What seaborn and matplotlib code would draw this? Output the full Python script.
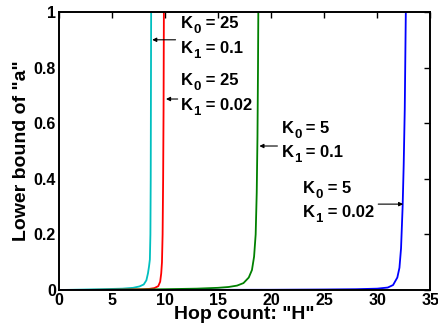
import matplotlib
matplotlib.use("Agg")
import matplotlib.pyplot as plt
import seaborn as sns
import pandas as pd

# Lower bound of "a" versus hop count for four (K0, K1) settings
h_k25_01 = [0, 2, 4, 6, 7, 7.6, 8.0, 8.25, 8.4, 8.5, 8.58, 8.63, 8.66, 8.68, 8.7]
a_k25_01 = [0, 0.0015, 0.003, 0.005, 0.008, 0.013, 0.02, 0.035, 0.06, 0.085,
            0.11, 0.2, 0.4, 0.7, 1.0]

h_k25_002 = [0, 3, 6, 8, 8.5, 9.0, 9.37, 9.55, 9.65, 9.72, 9.78, 9.83, 9.87, 9.9]
a_k25_002 = [0, 0.0005, 0.0015, 0.003, 0.004, 0.007, 0.014, 0.03, 0.06, 0.1,
             0.2, 0.4, 0.65, 1.0]

h_k5_01 = [0, 5, 10, 13, 15, 16, 16.8, 17.4, 17.9, 18.2, 18.4, 18.55, 18.65,
           18.72, 18.77, 18.8]
a_k5_01 = [0, 0.001, 0.003, 0.005, 0.008, 0.011, 0.016, 0.025, 0.045, 0.072,
           0.12, 0.2, 0.35, 0.55, 0.8, 1.0]

h_k5_002 = [0, 10, 20, 25, 28, 30, 31, 31.5, 31.9, 32.1, 32.25, 32.4, 32.5,
            32.6, 32.7]
a_k5_002 = [0, 0.0005, 0.001, 0.002, 0.003, 0.005, 0.009, 0.018, 0.045, 0.08,
            0.15, 0.3, 0.45, 0.65, 1.0]

k0_labels = ["25", "25", "5", "5"]
k1_labels = ["0.1", "0.02", "0.1", "0.02"]
colors = ["#00bfbf", "#ff0000", "#008000", "#0000ff"]

sns.set_style("white")
plt.rcParams["font.family"] = ["Liberation Sans", "DejaVu Sans"]
plt.rcParams["font.weight"] = "bold"
for key in ["text.color", "axes.labelcolor", "xtick.color", "ytick.color"]:
    plt.rcParams[key] = "black"

fig = plt.figure(figsize=(4.39, 3.33), dpi=100)
ax = fig.add_axes([0.134, 0.129, 0.846, 0.835])

series = [(h_k25_01, a_k25_01), (h_k25_002, a_k25_002),
          (h_k5_01, a_k5_01), (h_k5_002, a_k5_002)]
for (h, a), c in zip(series, colors):
    df = pd.DataFrame({"H": h, "a": a})
    sns.lineplot(data=df, x="H", y="a", color=c, linewidth=1.3, ax=ax,
                 estimator=None, sort=False)

ax.set_xlim(0, 35)
ax.set_ylim(0, 1)
ax.set_xticks([0, 5, 10, 15, 20, 25, 30, 35])
ax.set_yticks([0, 0.2, 0.4, 0.6, 0.8, 1.0])
ax.set_yticklabels(["0", "0.2", "0.4", "0.6", "0.8", "1"])
ax.tick_params(direction="in", length=4, width=1, top=True, right=True,
               labelsize=11.5, pad=2)
for lbl in ax.get_xticklabels() + ax.get_yticklabels():
    lbl.set_fontweight("bold")
for s in ax.spines.values():
    s.set_color("black")
    s.set_linewidth(1.4)

ax.set_xlabel('Hop count: "H"', fontsize=14, fontweight="bold", labelpad=-1)
ax.set_ylabel('Lower bound of "a"', fontsize=14, fontweight="bold", labelpad=3)

akw = dict(arrowstyle="-|>", color="black", lw=0.8, mutation_scale=6,
           shrinkA=0, shrinkB=0)


def k_line(x, y, idx, value):
    """Draw 'K<sub>idx</sub> = value' with its baseline at data (x, y)."""
    k = ax.text(x, y, "K", fontsize=12, fontweight="bold",
                ha="left", va="bottom")
    sub = ax.annotate(idx, xy=(1, 0), xycoords=k, xytext=(0.3, -3.2),
                      textcoords="offset points", fontsize=9.5,
                      fontweight="bold", ha="left", va="bottom")
    ax.annotate(" = " + value, xy=(1, 0), xycoords=(sub, k), xytext=(0, 0),
                textcoords="offset points", fontsize=12, fontweight="bold",
                ha="left", va="bottom")


# (text x, K0 row y, K1 row y, arrow y, arrow start x, arrow end x)
placements = [
    (11.5, 0.930, 0.841, 0.900, 11.0, 8.8),
    (11.5, 0.725, 0.635, 0.687, 11.2, 10.1),
    (21.0, 0.553, 0.466, 0.518, 20.6, 18.9),
    (23.0, 0.337, 0.251, 0.309, 30.1, 32.45),
]
for (tx, y0, y1, ay, ax0, ax1), k0, k1 in zip(placements, k0_labels, k1_labels):
    k_line(tx, y0, "0", k0)
    k_line(tx, y1, "1", k1)
    ax.annotate("", xy=(ax1, ay), xytext=(ax0, ay), arrowprops=akw)

fig.savefig("out.png", dpi=100)
